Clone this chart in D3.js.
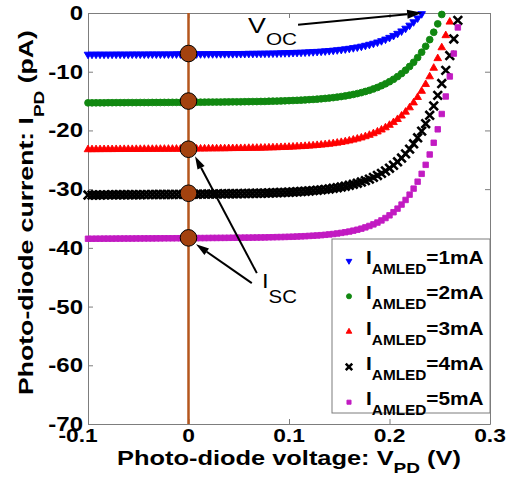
<!DOCTYPE html>
<html><head><meta charset="utf-8">
<script src="https://cdn.jsdelivr.net/npm/d3@7"></script>
<style>body{margin:0;background:#fff}svg{display:block}</style>
</head><body><svg id="c" width="515" height="489"></svg>
<script>
// ---------------- data ----------------
const voltage = [
-0.100,-0.096,-0.092,-0.088,-0.084,-0.080,-0.076,-0.072,-0.068,-0.064,
-0.060,-0.056,-0.052,-0.048,-0.044,-0.040,-0.036,-0.032,-0.028,-0.024,
-0.020,-0.016,-0.012,-0.008,-0.004,0.000,0.004,0.008,0.012,0.016,
0.020,0.024,0.028,0.032,0.036,0.040,0.044,0.048,0.052,0.056,
0.060,0.064,0.068,0.072,0.076,0.080,0.084,0.088,0.092,0.096,
0.100,0.104,0.108,0.112,0.116,0.120,0.124,0.128,0.132,0.136,
0.140,0.144,0.148,0.152,0.156,0.160,0.164,0.168,0.172,0.176,
0.180,0.184,0.188,0.192,0.196,0.200,0.204,0.208,0.212,0.216,
0.220,0.224,0.228,0.232,0.236,0.240,0.244,0.248,0.252,0.256,
0.260,0.264,0.268];

const current1mA = [
-7.05,-7.05,-7.04,-7.04,-7.04,-7.04,-7.04,-7.03,-7.03,-7.03,
-7.03,-7.02,-7.02,-7.02,-7.02,-7.01,-7.01,-7.01,-7.01,-7.00,
-7.00,-7.00,-6.99,-6.99,-6.99,-6.98,-6.98,-6.98,-6.97,-6.97,
-6.96,-6.96,-6.96,-6.95,-6.95,-6.94,-6.94,-6.93,-6.93,-6.92,
-6.90,-6.90,-6.89,-6.88,-6.87,-6.86,-6.85,-6.84,-6.81,-6.79,
-6.78,-6.75,-6.73,-6.71,-6.68,-6.64,-6.61,-6.57,-6.53,-6.48,
-6.42,-6.36,-6.29,-6.22,-6.13,-6.04,-5.93,-5.81,-5.68,-5.53,
-5.36,-5.18,-4.97,-4.74,-4.47,-4.18,-3.85,-3.49,-3.08,-2.62,
-2.10,-1.52,-0.87,-0.14];

const current2mA = [
-15.30,-15.30,-15.29,-15.29,-15.29,-15.28,-15.28,-15.27,-15.27,-15.27,
-15.26,-15.26,-15.26,-15.25,-15.25,-15.25,-15.24,-15.24,-15.24,-15.23,
-15.23,-15.22,-15.22,-15.22,-15.21,-15.20,-15.20,-15.19,-15.19,-15.18,
-15.17,-15.17,-15.16,-15.16,-15.15,-15.14,-15.13,-15.13,-15.12,-15.11,
-15.10,-15.09,-15.08,-15.07,-15.06,-15.03,-15.01,-15.00,-14.98,-14.95,
-14.93,-14.90,-14.87,-14.84,-14.80,-14.76,-14.72,-14.67,-14.61,-14.55,
-14.48,-14.41,-14.32,-14.23,-14.12,-14.00,-13.87,-13.72,-13.56,-13.37,
-13.17,-12.93,-12.68,-12.38,-12.06,-11.70,-11.29,-10.83,-10.32,-9.75,
-9.11,-8.39,-7.59,-6.68,-5.67,-4.54,-3.28,-1.85,-0.25];

const current3mA = [
-23.25,-23.25,-23.24,-23.24,-23.23,-23.23,-23.23,-23.22,-23.22,-23.21,
-23.21,-23.21,-23.20,-23.20,-23.19,-23.19,-23.19,-23.18,-23.18,-23.17,
-23.17,-23.17,-23.16,-23.16,-23.15,-23.14,-23.14,-23.13,-23.13,-23.12,
-23.11,-23.10,-23.10,-23.09,-23.09,-23.07,-23.06,-23.05,-23.05,-23.04,
-23.02,-23.01,-23.00,-22.99,-22.98,-22.95,-22.93,-22.91,-22.88,-22.86,
-22.83,-22.80,-22.76,-22.73,-22.69,-22.64,-22.59,-22.53,-22.47,-22.40,
-22.32,-22.23,-22.13,-22.02,-21.90,-21.76,-21.61,-21.44,-21.25,-21.04,
-20.80,-20.53,-20.23,-19.90,-19.52,-19.10,-18.63,-18.11,-17.52,-16.86,
-16.12,-15.28,-14.36,-13.31,-12.15,-10.84,-9.38,-7.74,-5.89,-3.83,
-1.52];

const current4mA = [
-31.00,-31.00,-30.99,-30.99,-30.98,-30.98,-30.97,-30.97,-30.96,-30.96,
-30.95,-30.95,-30.94,-30.94,-30.93,-30.93,-30.92,-30.92,-30.91,-30.91,
-30.90,-30.90,-30.89,-30.89,-30.88,-30.87,-30.86,-30.86,-30.85,-30.85,
-30.83,-30.83,-30.82,-30.81,-30.80,-30.79,-30.78,-30.77,-30.76,-30.75,
-30.73,-30.72,-30.71,-30.70,-30.68,-30.65,-30.63,-30.60,-30.58,-30.55,
-30.52,-30.49,-30.45,-30.41,-30.36,-30.31,-30.25,-30.19,-30.12,-30.04,
-29.96,-29.86,-29.75,-29.63,-29.50,-29.35,-29.18,-28.99,-28.79,-28.55,
-28.29,-28.00,-27.67,-27.31,-26.90,-26.44,-25.93,-25.35,-24.71,-23.99,
-23.18,-22.27,-21.26,-20.12,-18.85,-17.42,-15.83,-14.03,-12.02,-9.77,
-7.24,-4.42,-1.26];

const current5mA = [
-38.45,-38.45,-38.44,-38.44,-38.43,-38.43,-38.43,-38.42,-38.42,-38.41,
-38.41,-38.41,-38.40,-38.40,-38.39,-38.39,-38.39,-38.38,-38.38,-38.37,
-38.37,-38.37,-38.36,-38.36,-38.35,-38.34,-38.34,-38.34,-38.33,-38.33,
-38.32,-38.31,-38.31,-38.30,-38.30,-38.29,-38.28,-38.28,-38.27,-38.26,
-38.26,-38.25,-38.24,-38.23,-38.22,-38.20,-38.19,-38.17,-38.16,-38.14,
-38.12,-38.10,-38.07,-38.04,-38.01,-37.97,-37.93,-37.89,-37.84,-37.78,
-37.71,-37.64,-37.55,-37.45,-37.34,-37.22,-37.07,-36.91,-36.73,-36.51,
-36.27,-36.00,-35.69,-35.33,-34.92,-34.46,-33.93,-33.32,-32.63,-31.84,
-30.94,-29.91,-28.73,-27.39,-25.86,-24.10,-22.10,-19.81,-17.20,-14.22,
-10.81,-6.91,-2.46];

const legendLabels = ["=1mA", "=2mA", "=3mA", "=4mA", "=5mA"];
const iscCurrents = [-6.9, -15.0, -23.2, -30.7, -38.3];
const xTicks = [-0.1, 0, 0.1, 0.2, 0.3];
const yTicks = [0, -10, -20, -30, -40, -50, -60, -70];
const xTickLabels = ["-0.1", "0", "0.1", "0.2", "0.3"];
const yTickLabels = ["0", "-10", "-20", "-30", "-40", "-50", "-60", "-70"];

// ---------------- layout / style ----------------
const FONT = "'Liberation Sans', Arial, Helvetica, sans-serif";
const svg = d3.select("#c");
const x = d3.scaleLinear().domain([-0.1, 0.3]).range([88, 490]);
const y = d3.scaleLinear().domain([-70, 0]).range([424, 13]);
const frameColor = "#7d7d7d";

const series = [
  {vals: current1mA, color: "#0000ff", shape: "tdown"},
  {vals: current2mA, color: "#118811", shape: "circle"},
  {vals: current3mA, color: "#ff0000", shape: "tup"},
  {vals: current4mA, color: "#000000", shape: "cross"},
  {vals: current5mA, color: "#c21bc2", shape: "square"}
];

function symbolPath(shape, scale) {
  if (shape === "tdown" || shape === "tup") return d3.symbol(d3.symbolTriangle, 25 * scale * scale)();
  if (shape === "circle") return d3.symbol(d3.symbolCircle, 36 * scale * scale)();
  if (shape === "square") return d3.symbol(d3.symbolSquare, 30 * scale * scale)();
  const h = 4.3 * scale;
  return `M${-h},${-h}L${h},${h}M${-h},${h}L${h},${-h}`;
}
function drawMarker(sel, shape, color, scale) {
  sel.attr("d", symbolPath(shape, scale));
  if (shape === "cross") sel.attr("fill", "none").attr("stroke", color).attr("stroke-width", 2.6);
  else sel.attr("fill", color).attr("stroke", color).attr("stroke-width", 0.9).attr("stroke-linejoin", "miter");
}

function label(parent, parts, o) {
  const t = parent.append("text")
    .attr("font-family", FONT)
    .attr("font-weight", o.bold ? "bold" : "normal")
    .attr("font-size", o.size)
    .attr("text-anchor", o.anchor || "start")
    .attr("fill", "#000");
  let shifted = false;
  parts.forEach(p => {
    const ts = t.append("tspan").text(p.t);
    if (p.sub) { ts.attr("font-size", o.subSize).attr("dy", o.shift); shifted = true; }
    else if (shifted) { ts.attr("dy", -o.shift); shifted = false; }
  });
  let sx = o.sx || 1;
  if (o.width) sx = o.width / t.node().getBBox().width;
  t.attr("transform", `translate(${o.x},${o.y})${o.rotate ? " rotate(-90)" : ""} scale(${sx},1)`);
  return t;
}

// ---------------- axes frame ----------------
const axG = svg.append("g");
axG.append("g").attr("transform", `translate(0,${y(-70)})`)
  .call(d3.axisBottom(x).tickValues(xTicks).tickSizeInner(-5).tickSizeOuter(0).tickFormat(""));
axG.append("g").attr("transform", `translate(0,${y(0)})`)
  .call(d3.axisTop(x).tickValues(xTicks).tickSizeInner(-5).tickSizeOuter(0).tickFormat(""));
axG.append("g").attr("transform", `translate(${x(-0.1)},0)`)
  .call(d3.axisLeft(y).tickValues(yTicks).tickSizeInner(-5).tickSizeOuter(0).tickFormat(""));
axG.append("g").attr("transform", `translate(${x(0.3)},0)`)
  .call(d3.axisRight(y).tickValues(yTicks).tickSizeInner(-5).tickSizeOuter(0).tickFormat(""));
axG.selectAll(".domain").attr("stroke", frameColor);
axG.selectAll(".tick line").attr("stroke", frameColor);

// tick labels
yTicks.forEach((t, i) => label(svg, [{t: yTickLabels[i]}],
  {x: x(-0.1) - 5, y: y(t) + 7, size: 20, bold: true, anchor: "end", sx: 1.2}));
xTicks.forEach((t, i) => label(svg, [{t: xTickLabels[i]}],
  {x: x(t) - (t < 0 ? 10 : 0), y: 442, size: 19, bold: true, anchor: "middle", sx: 1.2}));

// ---------------- data marks ----------------
series.forEach(s => {
  const pts = s.vals.map((v, i) => [voltage[i], v]);
  svg.append("g").selectAll("path").data(pts).join("path")
    .attr("transform", d => `translate(${x(d[0])},${y(d[1])})${s.shape === "tdown" ? " rotate(180)" : ""}`)
    .call(sel => drawMarker(sel, s.shape, s.color, 1));
});

// V = 0 line and short-circuit points
svg.append("line").attr("x1", x(0)).attr("x2", x(0)).attr("y1", y(0)).attr("y2", y(-70))
  .attr("stroke", "#b5561d").attr("stroke-width", 2.5);
svg.append("g").selectAll("circle").data(iscCurrents).join("circle")
  .attr("cx", x(0)).attr("cy", d => y(d)).attr("r", 8.3)
  .attr("fill", "#a3420f").attr("stroke", "#000").attr("stroke-width", 1);

// ---------------- annotations ----------------
function arrow(x1, y1, x2, y2, len, half) {
  const ang = Math.atan2(y2 - y1, x2 - x1);
  const bx = x2 - len * Math.cos(ang), by = y2 - len * Math.sin(ang);
  svg.append("line").attr("x1", x1).attr("y1", y1).attr("x2", bx).attr("y2", by)
    .attr("stroke", "#000").attr("stroke-width", 2);
  const px = -Math.sin(ang) * half, py = Math.cos(ang) * half;
  svg.append("path").attr("d", `M${x2},${y2}L${bx + px},${by + py}L${bx - px},${by - py}Z`).attr("fill", "#000");
}
// Voc arrow (data coords)
arrow(x(0.109), y(-2.0), x(0.2325), y(0.05), 15, 4.5);
label(svg, [{t: "V"}, {t: "OC", sub: true}], {x: 248, y: 33, size: 22, subSize: 17, shift: 12, width: 49});
// Isc arrows
arrow(x(0.068), y(-44.3), x(0.0065), y(-24.4), 13, 4);
arrow(x(0.063), y(-46.0), x(0.0075), y(-39.4), 13, 4);
label(svg, [{t: "I"}, {t: "SC", sub: true}], {x: 262, y: 288, size: 21, subSize: 18, shift: 15, width: 35});

// ---------------- legend ----------------
const lg = svg.append("g");
lg.append("rect").attr("x", 332).attr("y", 239).attr("width", x(0.3) - 332).attr("height", 174)
  .attr("fill", "#fff").attr("stroke", frameColor);
series.forEach((s, i) => {
  const cy = 261 + i * 35.3;
  lg.append("path")
    .attr("transform", `translate(349,${cy})${s.shape === "tdown" ? " rotate(180)" : ""}`)
    .call(sel => drawMarker(sel, s.shape, s.color, 0.75));
  label(lg, [{t: "I"}, {t: "AMLED", sub: true}, {t: legendLabels[i]}],
    {x: 366, y: cy + 3, size: 19, subSize: 14, shift: 10, bold: true, width: 118});
});

// ---------------- axis titles ----------------
label(svg, [{t: "Photo-diode voltage: V"}, {t: "PD", sub: true}, {t: " (V)"}],
  {x: 117, y: 465, size: 20, subSize: 15, shift: 8, bold: true, width: 344});
label(svg, [{t: "Photo-diode current: I"}, {t: "PD", sub: true}, {t: " (pA)"}],
  {x: 33, y: 395, size: 21, subSize: 15, shift: 11, bold: true, width: 365, rotate: true});
</script>
</body></html>
